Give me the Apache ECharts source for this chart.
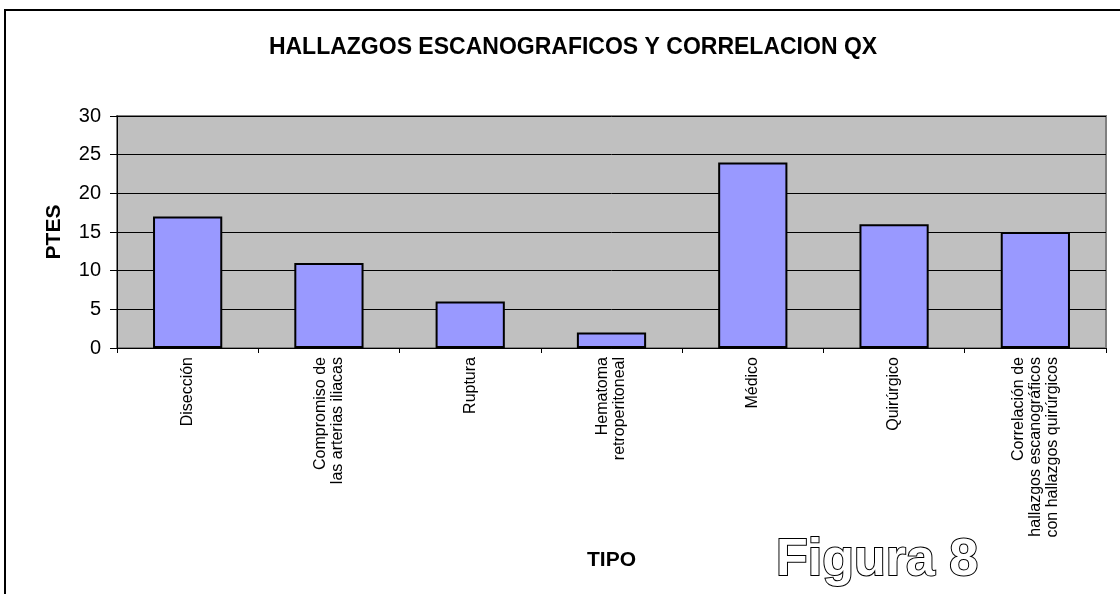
<!DOCTYPE html>
<html><head><meta charset="utf-8">
<script src="https://cdn.jsdelivr.net/npm/echarts@6/dist/echarts.min.js"></script>
<style>html,body{margin:0;padding:0;background:#fff}#c{width:1120px;height:594px}</style>
</head><body><div id="c"></div>
<script>
const categories = ['Disección', 'Compromiso de\nlas arterias iliacas', 'Ruptura', 'Hematoma\nretroperitoneal', 'Médico', 'Quirúrgico', 'Correlación de\nhallazgos escanográficos\ncon hallazgos quirúrgicos'];
const values = [17, 11, 6, 2, 24, 16, 15];
const yTicks = [0, 5, 10, 15, 20, 25, 30];

const chart = echarts.init(document.getElementById('c'));
chart.setOption({
  animation: false,
  backgroundColor: '#fff',
  title: {
    text: 'HALLAZGOS ESCANOGRAFICOS Y CORRELACION QX',
    left: 568, top: 31, textAlign: 'center',
    textStyle: {fontFamily: 'Liberation Sans, Arial', fontWeight: 'bold', fontSize: 23, color: '#000'}
  },
  grid: {left: 117, top: 116, right: 14, bottom: 246, show: true, backgroundColor: '#c0c0c0', borderColor: '#808080', borderWidth: 2},
  xAxis: {
    type: 'category', data: categories,
    name: 'TIPO', nameLocation: 'middle', nameGap: 202,
    nameTextStyle: {fontFamily: 'Liberation Sans, Arial', fontWeight: 'bold', fontSize: 21, color: '#000'},
    axisLine: {lineStyle: {color: '#000', width: 1}},
    axisTick: {show: true, inside: false, length: 5, lineStyle: {color: '#000'}},
    axisLabel: {rotate: 90, interval: 0, margin: 9, color: '#000', fontFamily: 'Liberation Sans, Arial', fontSize: 16, lineHeight: 17}
  },
  yAxis: {
    type: 'value', min: yTicks[0], max: yTicks[yTicks.length - 1], interval: 5,
    name: 'PTES', nameLocation: 'middle', nameGap: 52, nameRotate: 90,
    nameTextStyle: {fontFamily: 'Liberation Sans, Arial', fontWeight: 'bold', fontSize: 21, color: '#000'},
    axisLine: {show: true, lineStyle: {color: '#000', width: 1}},
    axisTick: {show: true, length: 7, lineStyle: {color: '#000'}},
    axisLabel: {color: '#000', fontFamily: 'Liberation Sans, Arial', fontSize: 20, margin: 16},
    splitLine: {lineStyle: {color: '#000', width: 1}}
  },
  series: [{
    type: 'bar', data: values, barWidth: '49%',
    itemStyle: {color: '#9999ff', borderColor: '#000', borderWidth: 2}
  }],
  graphic: [
    {type: 'rect', shape: {x: 5, y: 10, width: 1200, height: 700}, style: {fill: 'none', stroke: '#000', lineWidth: 2}, silent: true, z: 100},
    {type: 'text', left: 775, top: 534, z: 100,
     style: {text: 'Figura 8', fontFamily: 'Liberation Sans Narrow, Liberation Sans, Arial', fontWeight: 'bold', fontSize: 52, fill: '#fff', stroke: '#000', lineWidth: 2}}
  ]
});
</script></body></html>
